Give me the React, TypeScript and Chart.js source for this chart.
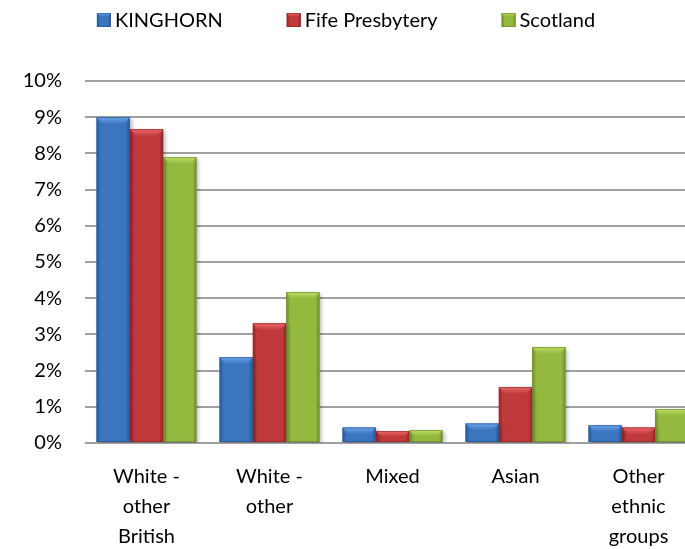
import { useEffect, useRef } from "react";
import { Chart, registerables } from "chart.js";

Chart.register(...registerables);

const categories: string[][] = [
  ["White -", "other", "British"],
  ["White -", "other"],
  ["Mixed"],
  ["Asian"],
  ["Other", "ethnic", "groups"],
];
const seriesNames = ["KINGHORN", "Fife Presbytery", "Scotland"];
const kinghorn = [9.0, 2.37, 0.43, 0.54, 0.49];
const fife = [8.67, 3.31, 0.33, 1.55, 0.43];
const scotland = [7.9, 4.17, 0.36, 2.65, 0.94];
const yMin = 0;
const yMax = 10;
const yStep = 1;

const palette = [
  { main: "#3b74bf", light: "#6ea6ea", dark: "#23508c" },
  { main: "#c13a3b", light: "#ea6b6c", dark: "#8a2223" },
  { main: "#95b83f", light: "#c0de66", dark: "#66842a" },
];

const FONT = "Lato";

function drawBevel(ctx: CanvasRenderingContext2D, l: number, t: number, r: number, b: number, c: { main: string; light: string; dark: string }) {
  const w = r - l;
  const h = b - t;
  const bv = Math.min(7, h / 2, w / 4);
  const sw = Math.min(3, w / 6);
  ctx.save();
  ctx.globalAlpha = 0.45;
  ctx.fillStyle = c.dark;
  ctx.beginPath();
  ctx.moveTo(l, t);
  ctx.lineTo(l + sw, t + bv);
  ctx.lineTo(l + sw, b);
  ctx.lineTo(l, b);
  ctx.closePath();
  ctx.fill();
  ctx.beginPath();
  ctx.moveTo(r, t);
  ctx.lineTo(r - sw, t + bv);
  ctx.lineTo(r - sw, b);
  ctx.lineTo(r, b);
  ctx.closePath();
  ctx.fill();
  ctx.globalAlpha = 1;
  const g = ctx.createLinearGradient(0, t, 0, t + bv);
  g.addColorStop(0, c.light);
  g.addColorStop(1, c.main);
  ctx.fillStyle = g;
  ctx.beginPath();
  ctx.moveTo(l, t);
  ctx.lineTo(r, t);
  ctx.lineTo(r - bv, t + bv);
  ctx.lineTo(l + bv, t + bv);
  ctx.closePath();
  ctx.fill();
  ctx.globalAlpha = 0.6;
  ctx.strokeStyle = c.dark;
  ctx.lineWidth = 1;
  ctx.strokeRect(l + 0.5, t + 0.5, w - 1, h - 1);
  ctx.restore();
}

const bevelPlugin = {
  id: "bevel",
  beforeDatasetsDraw(chart: any) {
    const ctx = chart.ctx;
    ctx.save();
    ctx.shadowColor = "rgba(0,0,0,0.3)";
    ctx.shadowBlur = 4;
    ctx.shadowOffsetX = 2;
    ctx.shadowOffsetY = 2;
  },
  afterDatasetsDraw(chart: any) {
    const ctx = chart.ctx;
    ctx.restore();
    chart.data.datasets.forEach((_ds: any, di: number) => {
      const meta = chart.getDatasetMeta(di);
      const c = palette[di];
      meta.data.forEach((el: any) => {
        const { x, y, base, width } = el.getProps(["x", "y", "base", "width"], true);
        drawBevel(ctx, x - width / 2, Math.min(y, base), x + width / 2, Math.max(y, base), c);
      });
    });
  },
};

// Legend drawn in Excel style: small bevelled squares, tight gap to text, wide gap between items
const customLegend = {
  id: "customLegend",
  afterDraw(chart: any) {
    const ctx = chart.ctx as CanvasRenderingContext2D;
    const box = 14;
    const gapText = 4;
    const gapItem = 64;
    const cy = 20;
    const centerX = 346;
    ctx.save();
    ctx.font = `20px ${FONT}`;
    const names = chart.data.datasets.map((d: any) => d.label as string);
    const widths = names.map((n: string) => ctx.measureText(n).width);
    const total = widths.reduce((a: number, w: number) => a + box + gapText + w, 0) + gapItem * (names.length - 1);
    let x = centerX - total / 2;
    names.forEach((n: string, i: number) => {
      const c = palette[i];
      ctx.fillStyle = c.main;
      ctx.fillRect(x, cy - box / 2, box, box);
      drawBevel(ctx, x, cy - box / 2, x + box, cy + box / 2, c);
      ctx.fillStyle = "#000";
      ctx.textBaseline = "middle";
      ctx.textAlign = "left";
      ctx.fillText(n, x + box + gapText, cy + 1);
      x += box + gapText + widths[i] + gapItem;
    });
    ctx.restore();
  },
};

export default function App() {
  const ref = useRef<HTMLCanvasElement | null>(null);
  useEffect(() => {
    if (!ref.current) return;
    const values = [kinghorn, fife, scotland];
    const chart = new Chart(ref.current, {
      type: "bar",
      data: {
        labels: categories,
        datasets: seriesNames.map((name, i) => ({
          label: name,
          data: values[i],
          backgroundColor: palette[i].main,
          borderWidth: 0,
          categoryPercentage: 0.813,
          barPercentage: 1,
        })),
      },
      options: {
        responsive: false,
        animation: false,
        layout: { padding: { left: 0, right: 8, top: 81, bottom: 0 } },
        plugins: {
          legend: { display: false },
          tooltip: { enabled: false },
        },
        scales: {
          x: {
            grid: { display: false },
            border: { display: false },
            ticks: {
              color: "#000",
              font: { family: FONT, size: 20, lineHeight: 1.5 },
              maxRotation: 0,
              autoSkip: false,
              padding: 11,
            },
            afterFit(scale: any) {
              scale.height = 106;
            },
          },
          y: {
            min: yMin,
            max: yMax,
            ticks: {
              stepSize: yStep,
              color: "#000",
              font: { family: FONT, size: 20 },
              padding: 23,
              callback: (v: any) => v + "%",
            },
            grid: { color: "#a0a0a0", lineWidth: 2, drawTicks: false },
            border: { display: false },
            afterFit(scale: any) {
              scale.width = 85;
            },
          },
        },
      },
      plugins: [bevelPlugin, customLegend],
    });
    return () => chart.destroy();
  }, []);
  return (
    <div style={{ position: "fixed", left: 0, top: 0, width: 685, height: 549, overflow: "hidden", background: "#fff" }}>
      <canvas ref={ref} width={708} height={549} style={{ display: "block" }} />
    </div>
  );
}
